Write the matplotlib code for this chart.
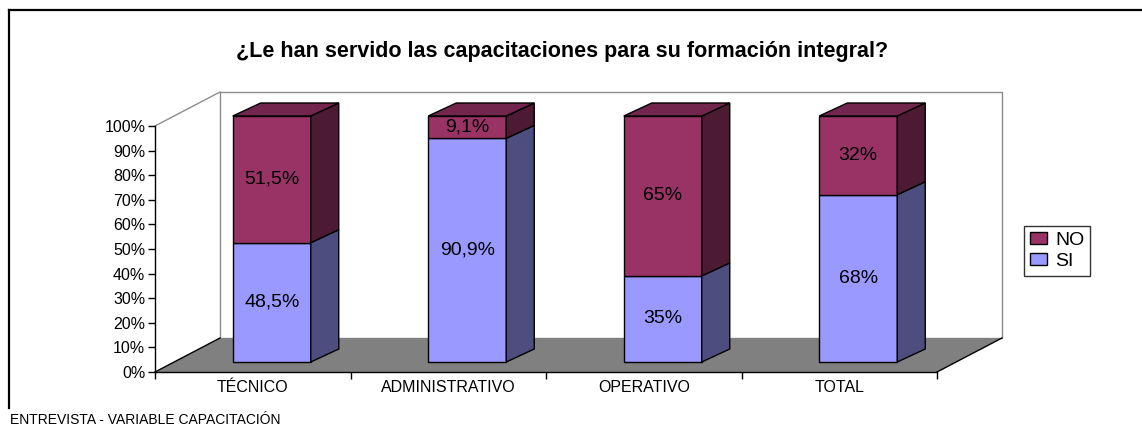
import matplotlib
matplotlib.use("Agg")
import matplotlib.pyplot as plt
from matplotlib.patches import Polygon, Patch
from matplotlib.lines import Line2D

plt.rcParams['font.family'] = ['Liberation Sans', 'DejaVu Sans']

# data
categories = ['TÉCNICO', 'ADMINISTRATIVO', 'OPERATIVO', 'TOTAL']
si_values = [48.5, 90.9, 35, 68]
no_values = [51.5, 9.1, 65, 32]
y_ticks = [0, 10, 20, 30, 40, 50, 60, 70, 80, 90, 100]
title = '¿Le han servido las capacitaciones para su formación integral?'
footer = 'ENTREVISTA - VARIABLE CAPACITACIÓN'

SI_FRONT, SI_SIDE = '#9999ff', '#4d4d80'
NO_FRONT, NO_SIDE, NO_TOP = '#993366', '#4d1a33', '#73264d'

W, H = 1142, 429
fig = plt.figure(figsize=(W / 100, H / 100), dpi=100)

# axes = front plane of the 3D box (pixels)
left, right, bottom, top = 155, 937, 372, 126
ax = fig.add_axes([left / W, (H - bottom) / H, (right - left) / W, (bottom - top) / H])
ax.set_xlim(-0.5, 3.5)
ax.set_ylim(0, 100)

# pixel -> data unit helpers
px_x = (right - left) / 4.0
px_y = (bottom - top) / 100.0
WALL_DX, WALL_DY = 65 / px_x, 34 / px_y
OFF_X, OFF_Y = 19 / px_x, 10 / px_y
DEP_X, DEP_Y = 28 / px_x, 13 / px_y
BAR_W = 78 / px_x

# back wall and floor
x0, x1 = -0.5, 3.5
ax.add_patch(Polygon([(x0 + WALL_DX, WALL_DY), (x1 + WALL_DX, WALL_DY),
                      (x1 + WALL_DX, 100 + WALL_DY), (x0 + WALL_DX, 100 + WALL_DY)],
                     closed=True, fc='white', ec='#8c8c8c', lw=1.0, clip_on=False, zorder=1))
ax.plot([x0, x0 + WALL_DX], [100, 100 + WALL_DY], color='#8c8c8c', lw=1.0, clip_on=False, zorder=1)
ax.add_patch(Polygon([(x0, 0), (x1, 0), (x1 + WALL_DX, WALL_DY), (x0 + WALL_DX, WALL_DY)],
                     closed=True, fc='#808080', ec='none', clip_on=False, zorder=2))
ax.plot([x0, x0 + WALL_DX], [0, WALL_DY], color='black', lw=1.0, clip_on=False, zorder=2)
ax.plot([x1, x1 + WALL_DX], [0, WALL_DY], color='black', lw=1.0, clip_on=False, zorder=2)

# bars
xs = [i + OFF_X for i in range(len(categories))]
ax.bar(xs, si_values, bottom=OFF_Y, width=BAR_W, color=SI_FRONT, edgecolor='black',
       lw=1.0, clip_on=False, zorder=3)
ax.bar(xs, no_values, bottom=[OFF_Y + v for v in si_values], width=BAR_W, color=NO_FRONT,
       edgecolor='black', lw=1.0, clip_on=False, zorder=3)


def fmt(v):
    return f'{v:g}'.replace('.', ',') + '%'


for x, s, n in zip(xs, si_values, no_values):
    xr = x + BAR_W / 2
    xl = x - BAR_W / 2
    b0, b1, b2 = OFF_Y, OFF_Y + s, OFF_Y + s + n
    for lo, hi, c in [(b0, b1, SI_SIDE), (b1, b2, NO_SIDE)]:
        ax.add_patch(Polygon([(xr, lo), (xr + DEP_X, lo + DEP_Y), (xr + DEP_X, hi + DEP_Y), (xr, hi)],
                             closed=True, fc=c, ec='black', lw=1.0, clip_on=False, zorder=3))
    ax.add_patch(Polygon([(xl, b2), (xr, b2), (xr + DEP_X, b2 + DEP_Y), (xl + DEP_X, b2 + DEP_Y)],
                         closed=True, fc=NO_TOP, ec='black', lw=1.0, clip_on=False, zorder=3))
    ax.text(x, (b0 + b1) / 2, fmt(s), ha='center', va='center', fontsize=14, zorder=4)
    ax.text(x, (b1 + b2) / 2, fmt(n), ha='center', va='center', fontsize=14, zorder=4)

# axes styling
for side in ['top', 'right']:
    ax.spines[side].set_visible(False)
ax.spines['left'].set_linewidth(1.0)
ax.spines['bottom'].set_linewidth(1.0)
ax.spines['left'].set_zorder(5)
ax.spines['bottom'].set_zorder(5)
ax.patch.set_visible(False)
ax.set_yticks(y_ticks)
ax.set_yticklabels([f'{t}%' for t in y_ticks], fontsize=11.5)
ax.tick_params(axis='y', length=5, width=1.0, pad=2)
ax.set_xticks(range(len(categories)))
ax.set_xticklabels(categories, fontsize=11.5)
ax.set_xticks([-0.5, 0.5, 1.5, 2.5, 3.5], minor=True)
ax.tick_params(axis='x', which='major', length=0, pad=6)
ax.tick_params(axis='x', which='minor', length=5, width=1.0)

# legend
handles = [Patch(fc=NO_FRONT, ec='black', lw=1.0, label='NO'),
           Patch(fc=SI_FRONT, ec='black', lw=1.0, label='SI')]
fig.legend(handles=handles, loc='center left', bbox_to_anchor=(1024 / W, (H - 251) / H),
           fontsize=14, frameon=True, fancybox=False, edgecolor='black',
           handlelength=0.9, handleheight=0.6, handletextpad=0.4, borderpad=0.3,
           labelspacing=0.2, borderaxespad=0)

# title, footer and outer frame
fig.text(562 / W, (H - 52) / H, title, ha='center', va='center', fontsize=15.5, fontweight='bold')
fig.text(10 / W, (H - 420) / H, footer, ha='left', va='center', fontsize=10)
fig.add_artist(Line2D([9 / W, 9 / W], [(H - 408) / H, (H - 10) / H], color='black', lw=1.6))
fig.add_artist(Line2D([9 / W, 1.0], [(H - 10) / H, (H - 10) / H], color='black', lw=1.6))

fig.savefig('out.png', dpi=100)
